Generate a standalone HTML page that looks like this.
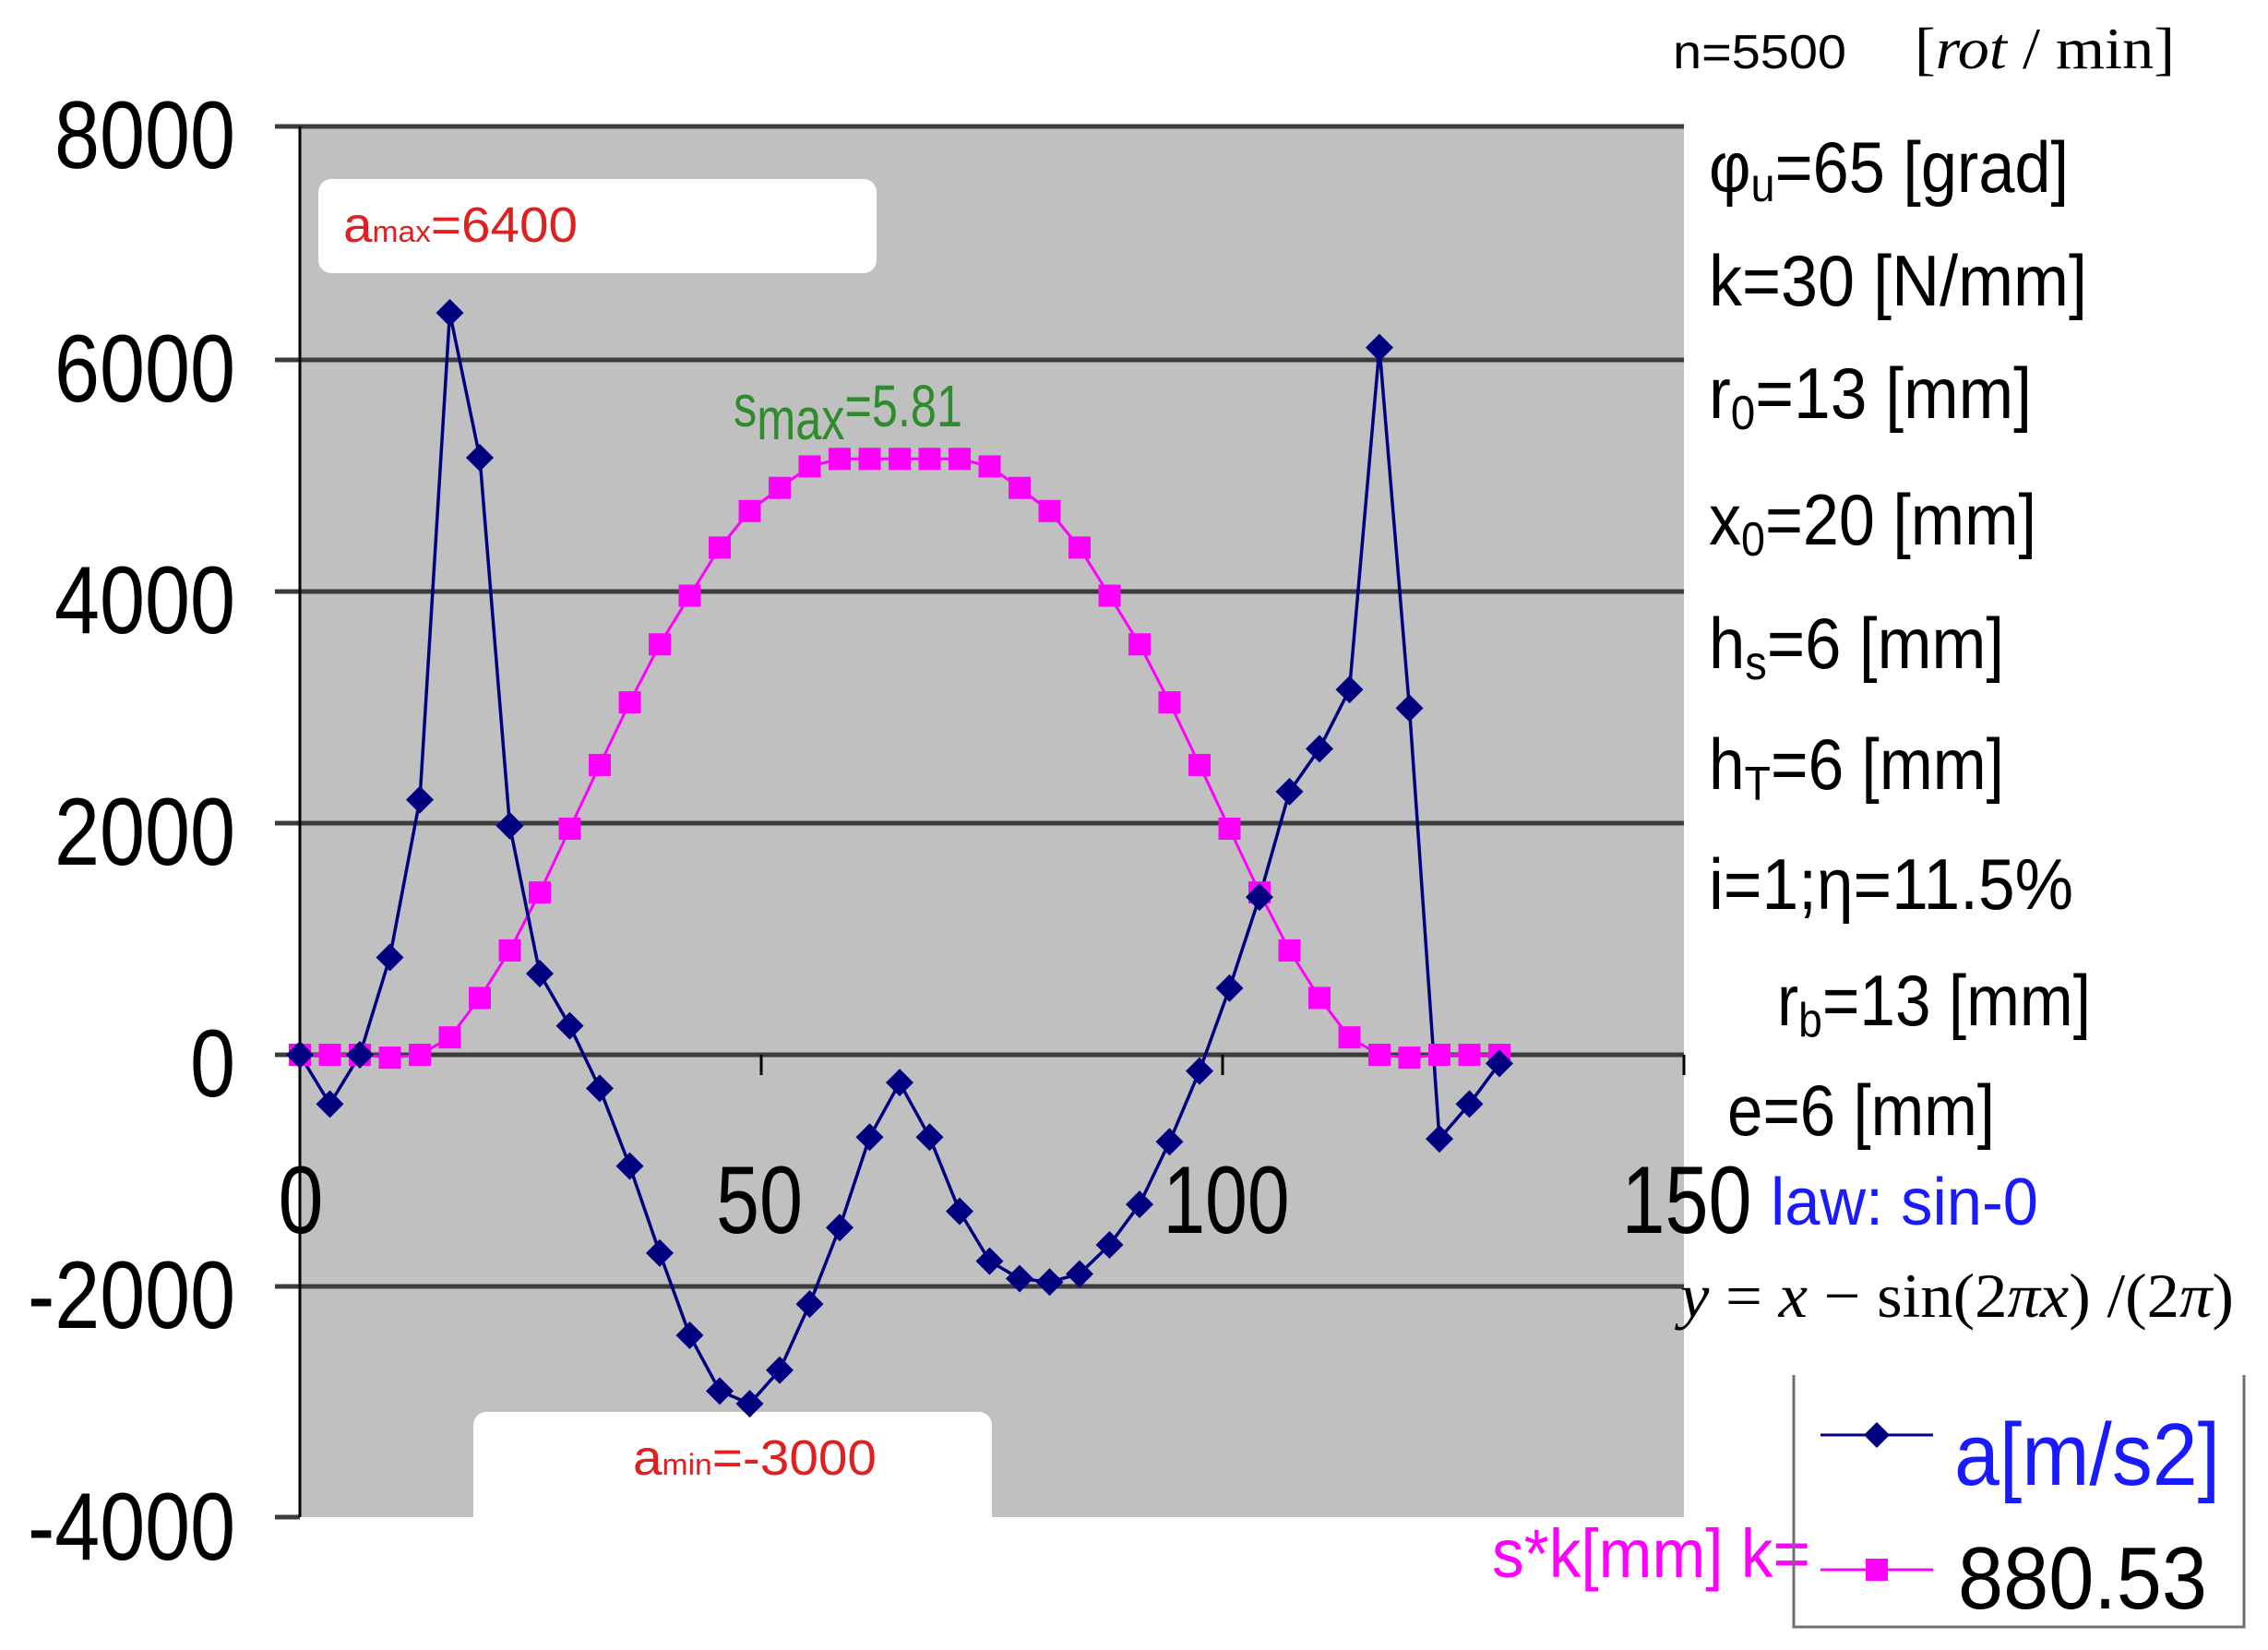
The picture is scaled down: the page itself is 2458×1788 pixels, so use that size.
<!DOCTYPE html>
<html><head><meta charset="utf-8"><style>
html,body{margin:0;padding:0;background:#fff}
svg{display:block}
text{font-family:"Liberation Sans",Arial,sans-serif}
.serif{font-family:"Liberation Serif","Times New Roman",serif}
</style></head><body>
<svg id="s" width="2458" height="1788" viewBox="0 0 2458 1788" xmlns="http://www.w3.org/2000/svg">
<rect x="325" y="137" width="1500" height="1507" fill="#c0c0c0"/>
<g stroke="#3c3c3c" stroke-width="5">
<line x1="298" y1="137" x2="1825" y2="137"/>
<line x1="298" y1="390" x2="1825" y2="390"/>
<line x1="298" y1="641" x2="1825" y2="641"/>
<line x1="298" y1="892" x2="1825" y2="892"/>
<line x1="298" y1="1143" x2="1825" y2="1143"/>
<line x1="298" y1="1394" x2="1825" y2="1394"/>
<line x1="298" y1="1644" x2="325" y2="1644"/>
</g>
<line x1="325" y1="137" x2="325" y2="1644" stroke="#000" stroke-width="3"/>
<g stroke="#000" stroke-width="3">
<line x1="825" y1="1143" x2="825" y2="1165"/>
<line x1="1325" y1="1143" x2="1325" y2="1165"/>
<line x1="1825" y1="1143" x2="1825" y2="1165"/>
</g>
<g font-size="104" fill="#000" text-anchor="end">
<text x="255" y="182" textLength="196" lengthAdjust="spacingAndGlyphs">8000</text>
<text x="255" y="435" textLength="196" lengthAdjust="spacingAndGlyphs">6000</text>
<text x="255" y="686" textLength="196" lengthAdjust="spacingAndGlyphs">4000</text>
<text x="255" y="937" textLength="196" lengthAdjust="spacingAndGlyphs">2000</text>
<text x="255" y="1188" textLength="49" lengthAdjust="spacingAndGlyphs">0</text>
<text x="255" y="1439" textLength="225" lengthAdjust="spacingAndGlyphs">-2000</text>
<text x="255" y="1690" textLength="225" lengthAdjust="spacingAndGlyphs">-4000</text>
</g>
<g font-size="104" fill="#000" text-anchor="middle">
<text x="326" y="1336" textLength="49" lengthAdjust="spacingAndGlyphs">0</text>
<text x="823" y="1336" textLength="94" lengthAdjust="spacingAndGlyphs">50</text>
<text x="1329" y="1336" textLength="137" lengthAdjust="spacingAndGlyphs">100</text>
<text x="1828" y="1336" textLength="141" lengthAdjust="spacingAndGlyphs">150</text>
</g>
<rect x="345" y="194" width="605" height="102" rx="14" fill="#fff"/>
<text x="372" y="262" font-size="54" fill="#e0201f" textLength="254" lengthAdjust="spacingAndGlyphs">a<tspan font-size="32">max</tspan>=6400</text>
<rect x="513" y="1530" width="562" height="130" rx="14" fill="#fff"/>
<rect x="325" y="1646" width="1510" height="20" fill="#fff"/>
<text x="686" y="1598" font-size="54" fill="#e0201f" textLength="264" lengthAdjust="spacingAndGlyphs">a<tspan font-size="32">min</tspan>=-3000</text>
<text x="795" y="462" font-size="64" fill="#2e8b2e" textLength="248" lengthAdjust="spacingAndGlyphs">s<tspan dy="14">max</tspan><tspan dy="-14">=5.81</tspan></text>
<g id="series"></g>
<g font-size="78" fill="#000">
<text x="1813" y="74" font-size="52" textLength="188" lengthAdjust="spacingAndGlyphs">n=5500</text>
<text x="2075" y="74" class="serif" font-size="64" textLength="282" lengthAdjust="spacingAndGlyphs">[<tspan font-style="italic">rot</tspan> / min]</text>
<text x="1852" y="208" textLength="390" lengthAdjust="spacingAndGlyphs">φ<tspan font-size="52" dy="10">u</tspan><tspan dy="-10">=65 [grad]</tspan></text>
<text x="1852" y="331" textLength="410" lengthAdjust="spacingAndGlyphs">k=30 [N/mm]</text>
<text x="1852" y="453" textLength="350" lengthAdjust="spacingAndGlyphs">r<tspan font-size="52" dy="12">0</tspan><tspan dy="-12">=13 [mm]</tspan></text>
<text x="1852" y="590" textLength="355" lengthAdjust="spacingAndGlyphs">x<tspan font-size="52" dy="12">0</tspan><tspan dy="-12">=20 [mm]</tspan></text>
<text x="1852" y="724" textLength="320" lengthAdjust="spacingAndGlyphs">h<tspan font-size="52" dy="12">s</tspan><tspan dy="-12">=6 [mm]</tspan></text>
<text x="1852" y="855" textLength="320" lengthAdjust="spacingAndGlyphs">h<tspan font-size="52" dy="12">T</tspan><tspan dy="-12">=6 [mm]</tspan></text>
<text x="1852" y="985" textLength="395" lengthAdjust="spacingAndGlyphs">i=1;η=11.5%</text>
<text x="1926" y="1111" textLength="340" lengthAdjust="spacingAndGlyphs">r<tspan font-size="52" dy="12">b</tspan><tspan dy="-12">=13 [mm]</tspan></text>
<text x="1872" y="1230" textLength="290" lengthAdjust="spacingAndGlyphs">e=6 [mm]</text>
<text x="1919" y="1327" fill="#1a1aff" font-size="72" textLength="290" lengthAdjust="spacingAndGlyphs">law: sin-0</text>
<text x="1821" y="1427" class="serif" font-size="68" textLength="600" lengthAdjust="spacingAndGlyphs"><tspan font-style="italic">y</tspan> = <tspan font-style="italic">x</tspan> − sin(2<tspan font-style="italic">πx</tspan>) /(2<tspan font-style="italic">π</tspan>)</text>
<text x="1617" y="1709" fill="#ff00ff" font-size="74" textLength="345" lengthAdjust="spacingAndGlyphs">s*k[mm] k=</text>
</g>
<g stroke="#707070" stroke-width="3" fill="none">
<polyline points="1944,1490 1944,1763 2432,1763 2432,1490"/>
</g>
<line x1="1973" y1="1555" x2="2095" y2="1555" stroke="#000080" stroke-width="3"/>
<path d="M2034 1541 L2048 1555 L2034 1569 L2020 1555Z" fill="#000080"/>
<text x="2118" y="1609" font-size="96" fill="#1a1aff" textLength="288" lengthAdjust="spacingAndGlyphs">a[m/s2]</text>
<line x1="1973" y1="1701" x2="2095" y2="1701" stroke="#ff00ff" stroke-width="3"/>
<rect x="2022" y="1689" width="24" height="24" fill="#ff00ff"/>
<text x="2122" y="1743" font-size="96" fill="#000" textLength="270" lengthAdjust="spacingAndGlyphs">880.53</text>
</svg>
<script>
var a=[0,-425,0,840,2200,6400,5150,1975,700,250,-290,-960,-1710,-2420,-2900,-3010,-2720,-2150,-1490,-710,-240,-710,-1350,-1780,-1930,-1960,-1890,-1640,-1290,-750,-140,575,1360,2270,2640,3150,6100,2990,-725,-425,-75];
var h=[0,0,0,-25,0,150,490,900,1400,1950,2500,3040,3540,3960,4375,4690,4890,5075,5140,5140,5140];
var s=[];for(var i=0;i<=40;i++)s.push(i<=20?h[i]:h[40-i]);
function X(i){return 325+32.5*i}function Y(v){return 1143-v*0.12563}
var g=document.getElementById('series'),o='';
var p=s.map(function(v,i){return X(i).toFixed(1)+','+Y(v).toFixed(1)}).join(' ');
o+='<polyline points="'+p+'" fill="none" stroke="#ff00ff" stroke-width="3"/>';
var q=a.map(function(v,i){return X(i).toFixed(1)+','+Y(v).toFixed(1)}).join(' ');
o+='<polyline points="'+q+'" fill="none" stroke="#000080" stroke-width="3.5"/>';
s.forEach(function(v,i){o+='<rect x="'+(X(i)-12)+'" y="'+(Y(v)-12)+'" width="24" height="24" fill="#ff00ff"/>'});
a.forEach(function(v,i){var x=X(i),y=Y(v);o+='<path d="M'+x+' '+(y-15)+' L'+(x+15)+' '+y+' L'+x+' '+(y+15)+' L'+(x-15)+' '+y+'Z" fill="#000080"/>'});
g.innerHTML=o;
</script>
</body></html>
